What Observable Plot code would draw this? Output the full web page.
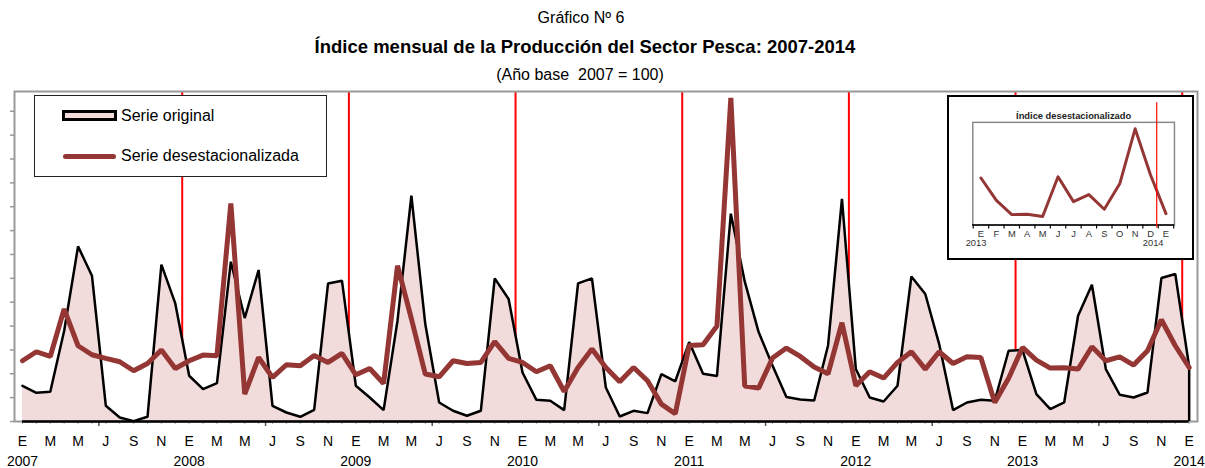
<!DOCTYPE html>
<html><head><meta charset="utf-8">
<script src="https://cdn.jsdelivr.net/npm/d3@7"></script>
<script src="https://cdn.jsdelivr.net/npm/@observablehq/plot@0.6"></script>
<style>
body{margin:0;background:#fff;font-family:"Liberation Sans",Arial,sans-serif;}
#page{position:relative;width:1205px;height:468px;overflow:hidden;background:#fff;}
.t{position:absolute;left:0;text-align:center;white-space:pre;color:#000;}
.lt{position:absolute;font-size:16px;line-height:18px;white-space:pre;color:#000;}
</style></head><body>
<div id="page">
  <div class="t" style="top:8px;width:1162px;font-size:16px;line-height:20px;">Gráfico Nº 6</div>
  <div class="t" style="top:36px;width:1170px;font-size:18.5px;line-height:22px;font-weight:bold;">Índice mensual de la Producción del Sector Pesca: 2007-2014</div>
  <div class="t" style="top:65px;width:1160px;font-size:16px;line-height:20px;">(Año base  2007 = 100)</div>
  <div id="chart" style="position:absolute;left:0;top:88px;"></div>
  <div id="legend" style="position:absolute;left:34px;top:95px;width:293px;height:82px;border:1px solid #222;box-sizing:border-box;background:#fff;">
    <div style="position:absolute;left:27px;top:14px;width:49px;height:5px;border:3px solid #000;background:#f2dcdb;"></div>
    <div class="lt" style="left:86px;top:10.5px;">Serie original</div>
    <div style="position:absolute;left:28px;top:57.5px;width:53px;height:5px;border-radius:2.5px;background:#943634;"></div>
    <div class="lt" style="left:86px;top:51px;">Serie desestacionalizada</div>
  </div>
  <div id="inset" style="position:absolute;left:947px;top:95px;width:247px;height:165px;border:2px solid #000;box-sizing:border-box;background:#fff;"></div>
</div>
<script>
const months = ["E","F","M","A","M","J","J","A","S","O","N","D"];
const years = [2007, 2008, 2009, 2010, 2011, 2012, 2013, 2014];
const original = [
  52.4, 42.1, 43.6, 133.1, 256.8, 213.8, 23.0, 5.9, 0.5, 6.9, 230.0, 173.2,
  67.1, 47.5, 56.4, 234.4, 151.7, 222.2, 23.0, 13.2, 6.9, 17.2, 202.5, 206.5,
  52.4, 35.2, 16.7, 147.8, 331.2, 142.9, 27.9, 15.7, 8.4, 15.7, 209.9, 179.6,
  71.9, 31.8, 30.4, 16.7, 202.5, 209.9, 49.9, 7.3, 15.7, 12.3, 69.6, 59.0,
  116.5, 70.0, 66.6, 304.8, 205.5, 131.2, 82.2, 35.8, 32.3, 30.8, 111.5, 326.5,
  76.9, 35.2, 29.4, 52.4, 212.8, 187.0, 113.6, 16.7, 27.9, 31.8, 30.4, 103.8,
  104.8, 40.2, 18.2, 27.9, 155.1, 200.6, 76.9, 39.2, 35.2, 42.6, 210.4, 216.3,
  80.3
];
const desest = [
  89.1, 102.3, 95.4, 164.9, 111.1, 97.9, 92.5, 87.6, 74.4, 85.1, 104.8, 77.8,
  89.1, 97.4, 96.4, 319.9, 40.2, 93.9, 64.6, 83.2, 81.7, 96.9, 86.6, 99.8,
  68.5, 77.8, 55.8, 228.5, 150.7, 69.6, 65.6, 89.1, 85.1, 86.6, 117.0, 92.7,
  86.6, 72.9, 81.7, 44.0, 79.2, 106.2, 79.2, 58.3, 79.2, 59.7, 25.5, 11.3,
  111.5, 112.6, 140.0, 474.6, 51.9, 49.0, 93.0, 107.7, 95.4, 79.8, 70.0, 144.8,
  52.4, 72.9, 63.7, 86.6, 102.3, 76.9, 102.3, 85.1, 94.9, 93.9, 27.9, 63.4,
  108.6, 90.1, 78.4, 78.7, 76.9, 109.6, 89.1, 94.9, 82.8, 103.8, 149.2, 111.1,
  79.2
];
const yMax = 484;
const yTickStep = 35;
const insetTitle = "Índice desestacionalizado";
const insetYDomain = [69.8, 154.5];
const insetBreak = 11.4;

const n = original.length;
const data = original.map((v, i) => ({i, orig: v, sa: desest[i]}));
const monthLabelData = d3.range(0, n, 2).map(i => ({i, label: months[i % 12]}));
const yearData = years.map((y, k) => ({i: k * 12, label: String(y)}));
const yearBreaks = years.slice(1).map((y, k) => (k + 1) * 12 - 0.5);
const midYear = years.slice(0, -1).map((y, k) => k * 12 + 5.5);

const main = Plot.plot({
  width: 1205, height: 380,
  marginTop: 3, marginBottom: 47, marginLeft: 14, marginRight: 8,
  x: {type: "linear", domain: [-0.576, 84.6], axis: null, label: null},
  y: {domain: [0, yMax], axis: null, label: null},
  style: {background: "transparent", fontFamily: "Liberation Sans, Arial, sans-serif", fontSize: "14px", color: "#000"},
  marks: [
    Plot.ruleX(yearBreaks, {x: d => d, stroke: "#ff0000", strokeWidth: 2}),
    Plot.areaY(data, {x: "i", y: "orig", fill: "#f2dcdb"}),
    Plot.frame({stroke: "#999", strokeWidth: 2}),
    Plot.axisY({ticks: d3.range(0, yMax, yTickStep), tickSize: 4, tickFormat: () => "", stroke: "#999", strokeWidth: 1.5, label: null}),
    Plot.axisX({ticks: d3.range(0, n), tickSize: 3, tickFormat: () => "", stroke: "#aaa", label: null}),
    Plot.axisX({ticks: midYear, tickSize: 5, tickFormat: () => "", stroke: "#555", strokeWidth: 1.5, label: null}),
    Plot.ruleY([0], {x1: 0, x2: n - 1, stroke: "#000", strokeWidth: 2.5}),
    Plot.ruleX([n - 1], {x: d => d, y1: 0, y2: original[n - 1], stroke: "#000", strokeWidth: 2.5}),
    Plot.lineY(data, {x: "i", y: "orig", stroke: "#000", strokeWidth: 2.5, strokeLinejoin: "miter"}),
    Plot.lineY(data, {x: "i", y: "sa", stroke: "#943634", strokeWidth: 5, strokeLinejoin: "miter"}),
    Plot.text(monthLabelData, {x: "i", y: 0, text: "label", dy: 20, fontSize: 14, fill: "#000"}),
    Plot.text(yearData, {x: "i", y: 0, text: "label", dy: 40, fontSize: 14, fill: "#000"})
  ]
});
document.getElementById("chart").appendChild(main);

// Inset: last 13 months of the seasonally adjusted series
const insetData = data.slice(n - 13).map((d, j) => ({j, sa: d.sa, label: months[d.i % 12]}));
const inset = Plot.plot({
  width: 247, height: 165,
  marginLeft: 25.7, marginRight: 16.3, marginTop: 27.3, marginBottom: 33.3,
  x: {type: "linear", domain: [-0.53, 12.55], axis: null, label: null},
  y: {domain: insetYDomain, axis: null, label: null},
  style: {background: "transparent", fontFamily: "Liberation Sans, Arial, sans-serif", fontSize: "9.5px", color: "#000", position: "absolute", left: "-2px", top: "-2px"},
  marks: [
    Plot.frame({stroke: "#888", strokeWidth: 1.5}),
    Plot.ruleY([insetYDomain[0]], {stroke: "#000", strokeWidth: 1.5}),
    Plot.axisX({ticks: d3.range(-0.5, 13, 1), tickSize: 4, tickFormat: () => "", stroke: "#000", strokeWidth: 1.2, label: null}),
    Plot.lineY(insetData, {x: "j", y: "sa", stroke: "#943634", strokeWidth: 3}),
    Plot.ruleX([insetBreak], {x: d => d, stroke: "#ff0000", strokeWidth: 1.2, insetTop: -20, insetBottom: -3}),
    Plot.text(insetData, {x: "j", y: insetYDomain[0], text: "label", dy: 9, fontSize: 9.5, fill: "#333"}),
    Plot.text([{j: 0, label: String(years[6])}], {x: "j", y: insetYDomain[0], text: "label", dy: 18.5, dx: -5, fontSize: 9.5, fill: "#333"}),
    Plot.text([{j: 12, label: String(years[7])}], {x: "j", y: insetYDomain[0], text: "label", dy: 18.5, dx: -13, fontSize: 9.5, fill: "#333"}),
    Plot.text([insetTitle], {text: d => d, frameAnchor: "top", dy: -10, fontWeight: "bold", fontSize: 9.5, fill: "#222"})
  ]
});
document.getElementById("inset").appendChild(inset);
</script>
</body></html>
